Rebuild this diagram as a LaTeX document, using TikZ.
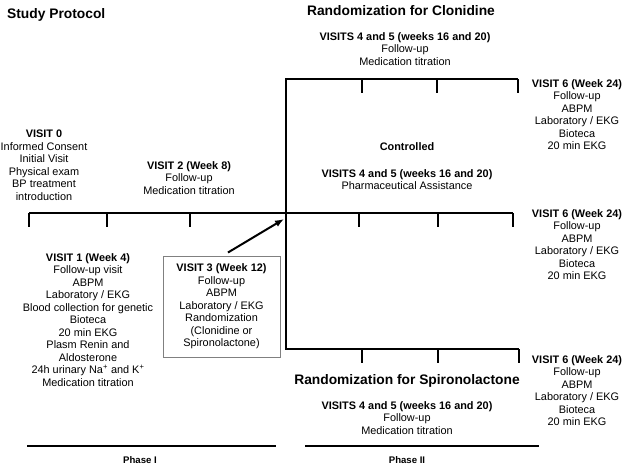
\documentclass[tikz,border=0pt]{standalone}
\usepackage{fontspec}
\setmainfont{Liberation Sans}
\usetikzlibrary{arrows.meta}

\begin{document}
\begin{tikzpicture}[x=1pt,y=-1pt,
	bar/.style={line width=2pt},
	arr/.style={line width=2pt,-{Latex[length=9pt,width=7pt]}},
	info/.style={align=center,anchor=north,inner sep=0pt,font=\fontsize{10.9}{12.5}\selectfont},
	title/.style={inner sep=0pt,font=\fontsize{13.8}{16}\selectfont\bfseries},
	phase/.style={inner sep=0pt,font=\fontsize{9.6}{11}\selectfont\bfseries}]
	\newcommand{\boxcolor}{gray}
	\def\ticklen{14}

		\useasboundingbox (0,0) rectangle (625,467);

		% main time line
		\coordinate (t0) at (29,213);
		\coordinate (t1) at (107,213);
		\coordinate (t2) at (190,213);
		\coordinate (t3) at (286,213);
		\coordinate (m1) at (359,213);
		\coordinate (m2) at (438,213);
		\coordinate (m3) at (513,213);
		% clonidine branch
		\coordinate (c0) at (286,79);
		\coordinate (c1) at (362,79);
		\coordinate (c2) at (437,79);
		\coordinate (c3) at (518,79);
		% spironolactone branch
		\coordinate (s0) at (286,349);
		\coordinate (s1) at (362,349);
		\coordinate (s2) at (438,349);
		\coordinate (s3) at (519,349);

		\draw[bar] (t0) -- (m3);
		\draw[bar] (c3) -- (c0) -- (s0) -- (s3);
		\foreach \p in {t0,t1,t2,m1,m2,m3,c1,c2,c3,s1,s2,s3}
			\draw[bar] (\p) -- ++(0,\ticklen);

		% phases
		\coordinate (p1a) at (27,446);
		\coordinate (p1b) at (276,446);
		\coordinate (p2a) at (305,446);
		\coordinate (p2b) at (539,446);
		\draw[bar] (p1a) -- (p1b);
		\draw[bar] (p2a) -- (p2b);
		\node[phase] (ph1) at (140,460) {Phase I};
		\node[phase] (ph2) at (407,460) {Phase II};

		% titles
		\node[title,anchor=west] (study) at (7,15) {Study Protocol};
		\node[title] (clon) at (401,11) {Randomization for Clonidine};
		\node[title] (spir) at (407,381) {Randomization for Spironolactone};

		% visits before randomization
		\node[info] (v0) at (44,130) {\textbf{VISIT 0}\\Informed Consent\\Initial Visit\\Physical exam\\BP treatment\\introduction};
		\node[info] (v2) at (189,161) {\textbf{VISIT 2 (Week 8)}\\Follow-up\\Medication titration};
		\node[info] (v1) at (88,253) {\textbf{VISIT 1 (Week 4)}\\Follow-up visit\\ABPM\\Laboratory / EKG\\Blood collection for genetic\\Bioteca\\20 min EKG\\Plasm Renin and\\Aldosterone\\24h urinary Na\textsuperscript{+} and K\textsuperscript{+}\\Medication titration};
		\node[info,anchor=center,draw=\boxcolor,line width=1pt,minimum width=117pt,minimum height=101pt] (v3) at (221.5,306.5)
			{\textbf{VISIT 3 (Week 12)}\\Follow-up\\ABPM\\Laboratory / EKG\\Randomization\\(Clonidine or\\Spironolactone)};
		\draw[arr] ([xshift=6.5pt,yshift=3pt]v3.north) -- ([xshift=-2pt,yshift=-6pt]t3);

		% clonidine
		\node[info] (c45) at (405,32) {\textbf{VISITS 4 and 5 (weeks 16 and 20)}\\Follow-up\\Medication titration};
		\node[info] (c6) at (577,79) {\textbf{VISIT 6 (Week 24)}\\Follow-up\\ABPM\\Laboratory / EKG\\Bioteca\\20 min EKG};

		% controlled
		\node[info,anchor=center] (ctrl) at (407,147) {\textbf{Controlled}};
		\node[info] (m45) at (407,169) {\textbf{VISITS 4 and 5 (weeks 16 and 20)}\\Pharmaceutical Assistance};
		\node[info] (m6) at (577,209) {\textbf{VISIT 6 (Week 24)}\\Follow-up\\ABPM\\Laboratory / EKG\\Bioteca\\20 min EKG};

		% spironolactone
		\node[info] (s6) at (577,355) {\textbf{VISIT 6 (Week 24)}\\Follow-up\\ABPM\\Laboratory / EKG\\Bioteca\\20 min EKG};
		\node[info] (s45) at (407,401) {\textbf{VISITS 4 and 5 (weeks 16 and 20)}\\Follow-up\\Medication titration};
	\end{tikzpicture}
\end{document}
